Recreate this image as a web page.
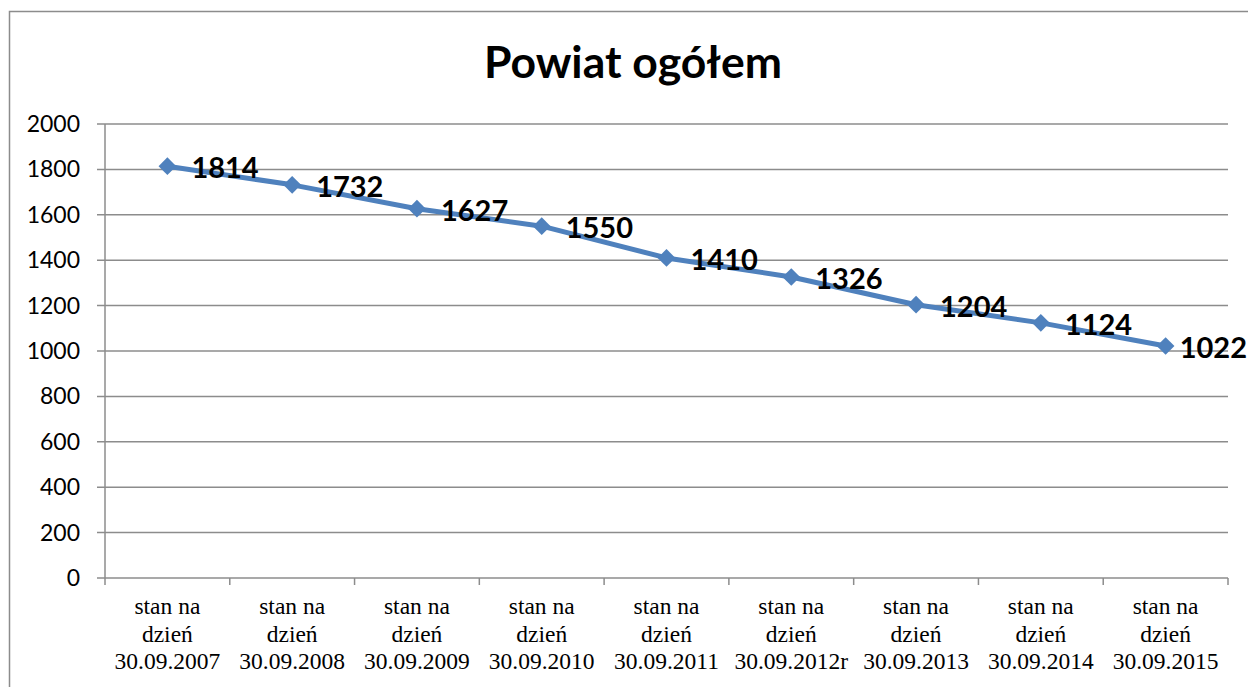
<!DOCTYPE html>
<html>
<head>
<meta charset="utf-8">
<script src="https://cdn.jsdelivr.net/npm/d3@7"></script>
<style>
  body { margin: 0; background: #fff; }
  .xlab { font-family: "Liberation Serif", "Times New Roman", serif; }
</style>
</head>
<body>
<div class="chart"></div>
<script>
const categories = [
  "stan na|dzień|30.09.2007",
  "stan na|dzień|30.09.2008",
  "stan na|dzień|30.09.2009",
  "stan na|dzień|30.09.2010",
  "stan na|dzień|30.09.2011",
  "stan na|dzień|30.09.2012r",
  "stan na|dzień|30.09.2013",
  "stan na|dzień|30.09.2014",
  "stan na|dzień|30.09.2015",
];
const values = [1814, 1732, 1627, 1550, 1410, 1326, 1204, 1124, 1022];
const yTicks = [0, 200, 400, 600, 800, 1000, 1200, 1400, 1600, 1800, 2000];
const title = "Powiat ogółem";

const width = 1248;
const height = 687;
const margin = { top: 124, right: 20, bottom: 109, left: 105 };

const svg = d3
  .select(".chart")
  .append("svg")
  .attr("width", width)
  .attr("height", height);

// chart border (right & bottom fall outside the picture)
svg
  .append("rect")
  .attr("x", 9.5)
  .attr("y", 11.5)
  .attr("width", 1250)
  .attr("height", 700)
  .attr("fill", "none")
  .attr("stroke", "#8c8c8c")
  .attr("stroke-width", 1.5);

const x = d3
  .scaleBand()
  .domain(d3.range(categories.length))
  .range([margin.left, 1228]);

const y = d3
  .scaleLinear()
  .domain([0, 2000])
  .range([height - margin.bottom, margin.top]);

// gridlines
svg
  .append("g")
  .selectAll("line")
  .data(yTicks)
  .enter()
  .append("line")
  .attr("x1", margin.left - 8)
  .attr("x2", 1228)
  .attr("y1", (d) => y(d))
  .attr("y2", (d) => y(d))
  .attr("stroke", "#8c8c8c")
  .attr("stroke-width", 1.5);

// y axis line
svg
  .append("line")
  .attr("x1", margin.left)
  .attr("x2", margin.left)
  .attr("y1", margin.top)
  .attr("y2", y(0))
  .attr("stroke", "#8c8c8c")
  .attr("stroke-width", 1.5);

// y tick labels
svg
  .append("g")
  .selectAll("text")
  .data(yTicks)
  .enter()
  .append("text")
  .attr("x", 80)
  .attr("y", (d) => y(d))
  .attr("dy", "0.35em")
  .attr("text-anchor", "end")
  .attr("font-family", "Lato, 'Open Sans', sans-serif")
  .attr("font-size", 23)
  .attr("fill", "#000")
  .text((d) => d);

// x ticks at band edges
const edges = d3.range(categories.length + 1).map((i) =>
  i < categories.length ? x(i) : x(categories.length - 1) + x.bandwidth()
);
svg
  .append("g")
  .selectAll("line")
  .data(edges)
  .enter()
  .append("line")
  .attr("x1", (d) => d)
  .attr("x2", (d) => d)
  .attr("y1", y(0))
  .attr("y2", y(0) + 7)
  .attr("stroke", "#8c8c8c")
  .attr("stroke-width", 1.5);

// x labels, three lines each
const xLab = svg
  .append("g")
  .selectAll("text")
  .data(categories)
  .enter()
  .append("text")
  .attr("class", "xlab")
  .attr("text-anchor", "middle")
  .attr("font-size", 23.5)
  .attr("fill", "#000");

xLab
  .selectAll("tspan")
  .data((d, i) => d.split("|").map((t) => ({ t, i })))
  .enter()
  .append("tspan")
  .attr("x", (d) => x(d.i) + x.bandwidth() / 2)
  .attr("y", (d, j) => 614 + j * 27.5)
  .text((d) => d.t);

// line
const line = d3
  .line()
  .x((d, i) => x(i) + x.bandwidth() / 2)
  .y((d) => y(d));

svg
  .append("path")
  .datum(values)
  .attr("d", line)
  .attr("fill", "none")
  .attr("stroke", "#4f81bd")
  .attr("stroke-width", 5)
  .attr("stroke-linejoin", "round");

// diamond markers
svg
  .append("g")
  .selectAll("path")
  .data(values)
  .enter()
  .append("path")
  .attr("d", d3.symbol().type(d3.symbolDiamond2).size(200))
  .attr("transform", (d, i) => `translate(${x(i) + x.bandwidth() / 2}, ${y(d)})`)
  .attr("fill", "#4f81bd");

// data labels (pushed left if they would run off the right edge)
svg
  .append("g")
  .selectAll("text")
  .data(values)
  .enter()
  .append("text")
  .attr("x", (d, i) => x(i) + x.bandwidth() / 2 + 24)
  .attr("y", (d) => y(d) + 2)
  .attr("dy", "0.35em")
  .attr("font-family", "Lato, 'Open Sans', sans-serif")
  .attr("font-weight", "bold")
  .attr("font-size", 29)
  .attr("fill", "#000")
  .text((d) => d)
  .each(function () {
    const len = this.getComputedTextLength();
    const x0 = +this.getAttribute("x");
    if (x0 + len > width - 1) this.setAttribute("x", width - 1 - len);
  });

// title
svg
  .append("text")
  .attr("x", 633)
  .attr("y", 78)
  .attr("text-anchor", "middle")
  .attr("font-family", "Lato, 'Open Sans', sans-serif")
  .attr("font-weight", "bold")
  .attr("font-size", 44.5)
  .attr("fill", "#000")
  .text(title);
</script>
</body>
</html>
